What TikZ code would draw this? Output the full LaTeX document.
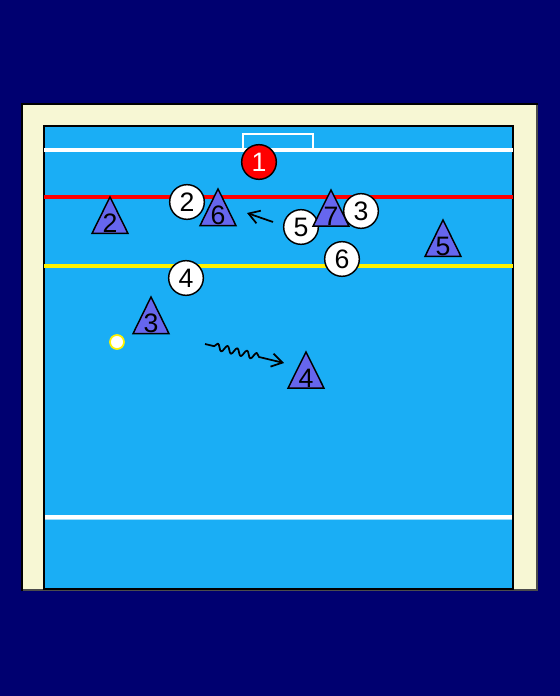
\documentclass[tikz,border=0pt]{standalone}
\usepackage{fontspec}
\setmainfont{Liberation Sans}
\usetikzlibrary{arrows.meta,decorations.pathmorphing,shapes.geometric}
\definecolor{navy}{RGB}{0,0,112}
\definecolor{sand}{RGB}{247,247,212}
\definecolor{water}{RGB}{26,174,245}
\definecolor{attack}{RGB}{102,102,238}
\tikzset{
  defender/.style={circle,draw=black,line width=1.1pt,fill=white,minimum size=26pt,inner sep=0pt,font=\fontsize{20}{22}\selectfont},
  keeper/.style={defender,fill=red,text=white},
  attacker/.style={isosceles triangle,isosceles triangle stretches,shape border rotate=90,draw=black,line width=1.1pt,fill=attack,minimum width=27pt,minimum height=27pt,inner sep=0pt,anchor=apex,font=\fontsize{20}{22}\selectfont},
  poolline/.style={line width=3pt},
  move/.style={line width=1.3pt,line join=round,-{Straight Barb[length=8pt,width=10pt]}}
}
\begin{document}
\begin{tikzpicture}[x=0.75pt,y=-0.75pt]
\fill[navy] (0,0) rectangle (560,696);
\draw[line width=0.8pt,fill=sand] (22,104) rectangle (537,590);
\draw[line width=1.2pt,black!70] (537,105) -- (537,590) -- (23,590);
\draw[line width=1pt,fill=water] (44,126) rectangle (513,589);
% lines across the pool
\draw[poolline,white] (44,150) -- (513,150);
\draw[line width=2pt,white] (243,150) -- (243,134) -- (313,134) -- (313,150);
\draw[poolline,red] (44,197) -- (513,197);
\draw[poolline,yellow] (44,266) -- (513,266);
\draw[line width=1pt,white!60!water] (45,519.5) -- (512,519.5);
\draw[poolline,white] (45,517) -- (512,517);
% goalkeeper and defenders
\node[keeper] (gk) at (259,162) {1};
\node[defender] (d2) at (187,202) {2};
\node[defender] (d3) at (361,211) {3};
\node[defender] (d4) at (186,278) {4};
\node[defender] (d5) at (301,227) {5};
\node[defender] (d6) at (342,259) {6};
% attackers
\node[attacker] (a2) at (110,195) {2};
\node[attacker] (a6) at (218,187) {6};
\node[attacker] (a7) at (331,188) {7};
\node[attacker] (a5) at (443,218) {5};
\node[attacker] (a3) at (151,295) {3};
\node[attacker] (a4) at (306,350) {4};
% ball
\node[circle,fill=white,draw=yellow,line width=1.3pt,minimum size=10.5pt,inner sep=0pt] (ball) at (117,342) {};
% movements
\coordinate (ms) at (273,222);
\coordinate (me) at (247,213);
\draw[move] (ms) -- (me);
\coordinate (ds) at (205,344);
\coordinate (de) at (284,363);
\draw[move,decorate,decoration={snake,amplitude=2.6pt,segment length=7.5pt,pre length=7pt,post length=17pt}] (ds) -- (de);
\end{tikzpicture}
\end{document}
